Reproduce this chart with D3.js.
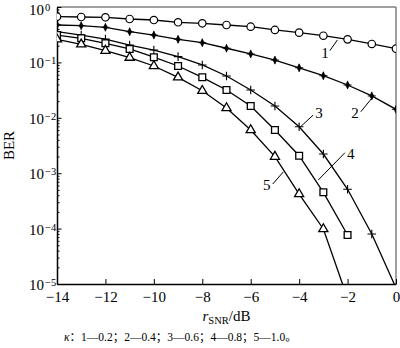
<!DOCTYPE html>
<html>
<head>
<meta charset="utf-8">
<script src="https://cdn.jsdelivr.net/npm/d3@7"></script>
<style>
  html, body { margin: 0; padding: 0; background: #fff; }
  svg { display: block; }
  text { font-family: "Liberation Serif", "Times New Roman", serif; fill: #000; }
</style>
</head>
<body>
<div id="chart"></div>
<script>
// SNR grid (dB)
const snr = [-14, -13, -12, -11, -10, -9, -8, -7, -6, -5, -4, -3, -2, -1, 0];

// BER for each κ
const ber1 = [0.668, 0.660, 0.652, 0.607, 0.582, 0.530, 0.508, 0.473, 0.441, 0.385, 0.344, 0.303, 0.261, 0.215, 0.177];
const ber2 = [0.473, 0.460, 0.430, 0.358, 0.312, 0.261, 0.227, 0.180, 0.142, 0.110, 0.080, 0.0575, 0.0391, 0.0248, 0.0142];
const ber3 = [0.358, 0.312, 0.264, 0.206, 0.167, 0.127, 0.090, 0.0568, 0.0318, 0.0163, 0.0069, 0.00222, 5.12e-4, 8.0e-5, 8.5e-6];
const ber4 = [0.312, 0.272, 0.221, 0.175, 0.124, 0.0861, 0.0538, 0.0318, 0.0163, 0.00603, 0.00207, 4.52e-4, 7.66e-5, null, null];
const ber5 = [0.261, 0.212, 0.163, 0.122, 0.0861, 0.0538, 0.0308, 0.0150, 0.00603, 0.00199, 4.21e-4, 9.84e-5, 5.5e-6, null, null];

const curveIds = ["1", "2", "3", "4", "5"];
const kappa = ["0.2", "0.4", "0.6", "0.8", "1.0"];

// axis ticks
const xTicks = [-14, -12, -10, -8, -6, -4, -2, 0];
const yExponents = [0, -1, -2, -3, -4, -5];

// curve labels: text centre and leader line, in data units
const labelText = ["1", "2", "3", "4", "5"];
const labelX = [-2.93, -1.69, -3.18, -1.87, -5.34];
const labelY = [0.150, 0.0124, 0.0121, 0.00222, 6.12e-4];
const leadX1 = [-2.73, -1.45, -3.42, -2.11, -5.09];
const leadY1 = [0.163, 0.0129, 0.0112, 0.00234, 6.38e-4];
const leadX2 = [-2.42, -1.00, -3.94, -3.21, -4.65];
const leadY2 = [0.254, 0.0225, 0.0069, 7.54e-4, 1.06e-3];

const W = 400, H = 348;
const margin = { left: 57, right: 4, top: 7, bottom: 64 };
const iw = W - margin.left - margin.right;
const ih = H - margin.top - margin.bottom;

const svg = d3.select("#chart").append("svg").attr("width", W).attr("height", H);
const g = svg.append("g").attr("transform", `translate(${margin.left},${margin.top})`);

const x = d3.scaleLinear().domain([-14, 0]).range([0, iw]);
const y = d3.scaleLog().domain([1e-5, 1]).range([ih, 0]);

svg.append("defs").append("clipPath").attr("id", "plotClip")
  .append("rect").attr("x", 0).attr("y", 0).attr("width", iw).attr("height", ih);

// frame: top and right edges grey, axes black
g.append("line").attr("x1", 0).attr("x2", iw).attr("y1", 0).attr("y2", 0)
  .attr("stroke", "#808080").attr("stroke-width", 1.5);
g.append("line").attr("x1", iw).attr("x2", iw).attr("y1", 0).attr("y2", ih)
  .attr("stroke", "#808080").attr("stroke-width", 1.5);

// x axis, ticks pointing inward
const xAxis = d3.axisBottom(x).tickValues(xTicks).tickSizeInner(-5).tickSizeOuter(0).tickPadding(7)
  .tickFormat(d => d3.format("d")(d).replace("-", "\u2212"));
const gx = g.append("g").attr("transform", `translate(0,${ih})`).call(xAxis);
gx.select(".domain").attr("stroke", "#000").attr("stroke-width", 1.5);
gx.selectAll(".tick line").attr("stroke", "#000").attr("stroke-width", 1);
gx.selectAll(".tick text").attr("font-size", 15).attr("font-family", "Liberation Serif, serif");

// y axis, major and minor ticks pointing inward
const minorVals = [];
yExponents.slice(1).forEach(e => { for (let m = 2; m <= 9; m++) minorVals.push(m * Math.pow(10, e)); });
const majorVals = yExponents.map(e => Math.pow(10, e));

const gyMinor = g.append("g").call(d3.axisLeft(y).tickValues(minorVals).tickSizeInner(-2.5).tickSizeOuter(0).tickFormat(""));
gyMinor.select(".domain").remove();
gyMinor.selectAll(".tick line").attr("stroke", "#000").attr("stroke-width", 1);

const gy = g.append("g").call(d3.axisLeft(y).tickValues(majorVals).tickSizeInner(-4.5).tickSizeOuter(0).tickFormat(""));
gy.select(".domain").attr("stroke", "#000").attr("stroke-width", 1.5);
gy.selectAll(".tick line").attr("stroke", "#000").attr("stroke-width", 1);

// y tick labels as 10 with superscript exponent
yExponents.forEach(e => {
  const ty = y(Math.pow(10, e)) + (e === 0 ? 1.5 : 0);
  g.append("text")
    .attr("x", -13).attr("y", ty + 6)
    .attr("font-size", 15).attr("text-anchor", "end").text("10");
  g.append("text")
    .attr("x", -12).attr("y", ty + 2)
    .attr("font-size", 10.5).attr("text-anchor", "start")
    .text(e === 0 ? "0" : "\u2212" + Math.abs(e));
});

// series
const series = [ber1, ber2, ber3, ber4, ber5];
const plot = g.append("g").attr("clip-path", "url(#plotClip)");
const line = d3.line()
  .defined(d => d.v != null)
  .x(d => x(d.s)).y(d => y(d.v));

series.forEach((vals, i) => {
  const pts = snr.map((s, k) => ({ s, v: vals[k] }));
  plot.append("path").datum(pts)
    .attr("d", line)
    .attr("fill", "none").attr("stroke", "#000").attr("stroke-width", 1.3);
});

// markers
const markerStyles = [
  { type: d3.symbolCircle, size: 44, fill: "#fff", sw: 1.2 },
  { type: d3.symbolDiamond, size: 16, fill: "#000", sw: 0.6 },
  { type: d3.symbolPlus, size: 26, fill: "none", sw: 1.1 },
  { type: d3.symbolSquare, size: 46, fill: "#fff", sw: 1.3 },
  { type: d3.symbolTriangle, size: 36, fill: "#fff", sw: 1.3 }
];
series.forEach((vals, i) => {
  const st = markerStyles[i];
  const pts = snr.map((s, k) => ({ s, v: vals[k] })).filter(d => d.v != null);
  const sym = d3.symbol().type(st.type).size(st.size);
  plot.selectAll(null).data(pts).enter().append("path")
    .attr("transform", d => `translate(${x(d.s)},${y(d.v)})`)
    .attr("d", sym)
    .attr("fill", st.fill).attr("stroke", "#000").attr("stroke-width", st.sw);
  if (i === 1) {
    const plus = d3.symbol().type(d3.symbolPlus).size(24);
    plot.selectAll(null).data(pts).enter().append("path")
      .attr("transform", d => `translate(${x(d.s)},${y(d.v)})`)
      .attr("d", plus)
      .attr("fill", "none").attr("stroke", "#000").attr("stroke-width", 0.9);
  }
});

// curve labels with leader lines
labelText.forEach((t, i) => {
  g.append("line")
    .attr("x1", x(leadX1[i])).attr("y1", y(leadY1[i]))
    .attr("x2", x(leadX2[i])).attr("y2", y(leadY2[i]))
    .attr("stroke", "#000").attr("stroke-width", 1);
  g.append("text")
    .attr("x", x(labelX[i])).attr("y", y(labelY[i]))
    .attr("dy", "0.35em").attr("text-anchor", "middle")
    .attr("font-size", 15).text(t);
});

// axis titles
svg.append("text")
  .attr("transform", `translate(13.5,${margin.top + ih / 2}) rotate(-90)`)
  .attr("text-anchor", "middle").attr("font-size", 15).text("BER");

const xt = svg.append("text")
  .attr("x", margin.left + iw / 2).attr("y", 321)
  .attr("text-anchor", "middle").attr("font-size", 15);
xt.append("tspan").attr("font-style", "italic").text("r");
xt.append("tspan").attr("font-size", 10.5).attr("dy", 3).text("SNR");
xt.append("tspan").attr("dy", -3).text("/dB");

// κ legend line under the chart
const cap = svg.append("text")
  .attr("x", 64).attr("y", 340.5)
  .attr("font-size", 11.5)
  .style("font-family", "'Liberation Serif', 'Noto Sans CJK SC', serif");
cap.append("tspan").attr("font-style", "italic").text("\u03ba");
cap.append("tspan").style("font-family", "'Noto Sans CJK SC'").text("\uff1a");
curveIds.forEach((c, i) => {
  cap.append("tspan").text(c + "\u2014" + kappa[i]);
  cap.append("tspan").style("font-family", "'Noto Sans CJK SC'")
    .text(i < curveIds.length - 1 ? "\uff1b" : "\u3002");
});
</script>
</body>
</html>
